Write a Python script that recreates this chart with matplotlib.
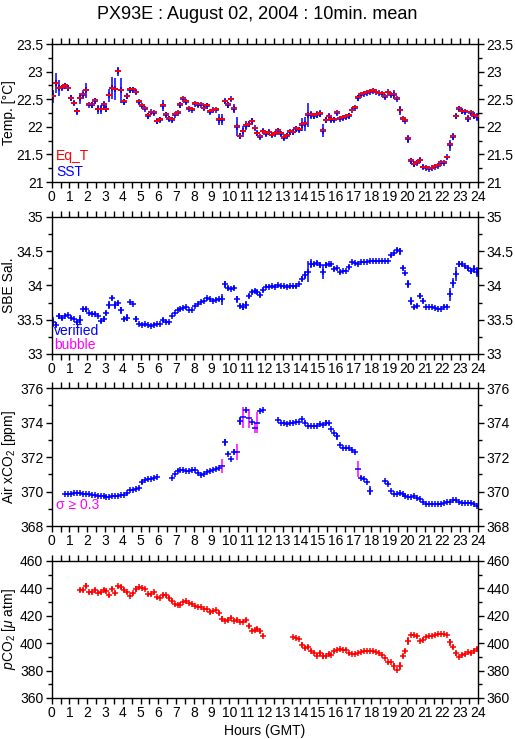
import numpy as np
import matplotlib
matplotlib.use("Agg")
import matplotlib.pyplot as plt
from matplotlib.ticker import MultipleLocator

plt.rcParams['font.family'] = ['Liberation Sans', 'DejaVu Sans']
plt.rcParams['mathtext.fontset'] = 'custom'
plt.rcParams['mathtext.rm'] = 'Liberation Sans'
plt.rcParams['mathtext.it'] = 'Liberation Sans:italic'

nan = np.nan

# 10 minute means, one row per hour (6 values each)
sst = [
    22.55, 22.80, 22.70, 22.71, 22.74, 22.70,
    22.52, 22.43, 22.28, 22.52, 22.58, 22.66,
    22.40, 22.40, 22.47, 22.32, 22.32, 22.40,
    22.32, 22.57, 22.70, 22.68, 23.01, 22.66,
    22.45, 22.55, 22.67, 22.67, 22.63, 22.45,
    22.38, 22.33, 22.20, 22.26, 22.25, 22.10,
    22.13, 22.38, 22.22, 22.15, 22.13, 22.22,
    22.25, 22.40, 22.50, 22.45, 22.33, 22.31,
    22.42, 22.39, 22.40, 22.34, 22.38, 22.27,
    22.30, 22.31, 22.13, 22.13, 22.46, 22.40,
    22.50, 22.33, 22.00, 21.83, 21.92, 22.02,
    22.05, 22.10, 21.97, 21.88, 21.82, 21.92,
    21.87, 21.90, 21.85, 21.87, 21.93, 21.87,
    21.80, 21.84, 21.90, 21.90, 21.96, 21.95,
    22.04, 22.05, 22.22, 22.22, 22.19, 22.22,
    22.24, 21.93, 22.12, 22.19, 22.13, 22.13,
    22.25, 22.15, 22.16, 22.18, 22.20, 22.30,
    22.35, 22.52, 22.58, 22.60, 22.62, 22.64,
    22.65, 22.63, 22.61, 22.60, 22.54, 22.63,
    22.58, 22.58, 22.51, 22.30, 22.15, 22.11,
    21.78, 21.38, 21.32, 21.35, 21.39, 21.27,
    21.26, 21.24, 21.25, 21.28, 21.29, 21.35,
    21.35, 21.45, 21.67, 21.82, 22.19, 22.33,
    22.28, 22.27, 22.15, 22.25, 22.20, 22.18,
]
sst_err = [
    0.11, 0.18, 0.15, 0.04, 0.05, 0.05,
    0.06, 0.03, 0.07, 0.10, 0.08, 0.14,
    0.03, 0.05, 0.05, 0.08, 0.08, 0.06,
    0.05, 0.12, 0.20, 0.20, 0.08, 0.22,
    0.05, 0.05, 0.05, 0.06, 0.03, 0.03,
    0.04, 0.03, 0.05, 0.03, 0.03, 0.04,
    0.04, 0.10, 0.05, 0.05, 0.05, 0.03,
    0.02, 0.05, 0.02, 0.04, 0.02, 0.02,
    0.02, 0.03, 0.02, 0.03, 0.05, 0.04,
    0.03, 0.03, 0.10, 0.10, 0.05, 0.05,
    0.03, 0.08, 0.17, 0.05, 0.10, 0.08,
    0.05, 0.06, 0.03, 0.04, 0.04, 0.04,
    0.04, 0.04, 0.04, 0.04, 0.04, 0.04,
    0.04, 0.04, 0.04, 0.04, 0.05, 0.04,
    0.12, 0.12, 0.22, 0.07, 0.05, 0.06,
    0.07, 0.12, 0.05, 0.05, 0.05, 0.05,
    0.03, 0.03, 0.03, 0.03, 0.05, 0.02,
    0.02, 0.05, 0.03, 0.02, 0.02, 0.02,
    0.01, 0.02, 0.02, 0.02, 0.03, 0.02,
    0.04, 0.08, 0.03, 0.08, 0.02, 0.03,
    0.08, 0.05, 0.04, 0.04, 0.05, 0.03,
    0.03, 0.03, 0.02, 0.02, 0.02, 0.03,
    0.03, 0.03, 0.10, 0.06, 0.04, 0.04,
    0.04, 0.03, 0.07, 0.04, 0.06, 0.07,
]
eq_t = [
    22.56, 22.79, 22.71, 22.73, 22.75, 22.71,
    22.53, 22.44, 22.29, 22.53, 22.59, 22.67,
    22.41, 22.42, 22.48, 22.33, 22.33, 22.41,
    22.33, 22.58, 22.71, 22.69, 23.02, 22.67,
    22.46, 22.56, 22.68, 22.68, 22.64, 22.47,
    22.39, 22.34, 22.22, 22.27, 22.26, 22.11,
    22.14, 22.39, 22.23, 22.16, 22.14, 22.23,
    22.26, 22.41, 22.52, 22.46, 22.34, 22.32,
    22.43, 22.41, 22.41, 22.35, 22.39, 22.29,
    22.31, 22.32, 22.14, 22.14, 22.47, 22.41,
    22.51, 22.34, 22.01, 21.84, 21.93, 22.03,
    22.06, 22.11, 21.98, 21.89, 21.84, 21.93,
    21.88, 21.91, 21.86, 21.89, 21.94, 21.88,
    21.81, 21.85, 21.92, 21.91, 21.97, 21.96,
    22.05, 22.07, 22.23, 22.23, 22.21, 22.23,
    22.25, 21.94, 22.13, 22.20, 22.14, 22.14,
    22.26, 22.16, 22.17, 22.19, 22.22, 22.31,
    22.36, 22.54, 22.59, 22.61, 22.63, 22.65,
    22.66, 22.64, 22.62, 22.61, 22.55, 22.64,
    22.59, 22.59, 22.52, 22.31, 22.16, 22.12,
    21.79, 21.40, 21.33, 21.36, 21.40, 21.28,
    21.27, 21.25, 21.26, 21.29, 21.30, 21.36,
    21.36, 21.46, 21.68, 21.83, 22.20, 22.34,
    22.29, 22.28, 22.16, 22.26, 22.22, 22.19,
]

sal = [
    33.47, 33.43, 33.55, 33.52, 33.56, 33.57,
    33.53, 33.51, 33.46, 33.50, 33.65, 33.65,
    33.60, 33.59, 33.59, 33.56, 33.48, 33.51,
    33.60, 33.71, 33.82, 33.71, 33.74, 33.64,
    33.51, 33.53, 33.76, 33.73, 33.51, 33.44,
    33.43, 33.44, 33.43, 33.41, 33.43, 33.44,
    33.44, 33.50, 33.47, 33.46, 33.55, 33.60,
    33.64, 33.66, 33.67, 33.68, 33.64, 33.64,
    33.70, 33.73, 33.76, 33.78, 33.81, 33.80,
    33.77, 33.79, 33.80, 33.80, 34.02, 33.96,
    33.95, 33.96, 33.80, 33.70, 33.69, 33.72,
    33.85, 33.91, 33.92, 33.90, 33.86, 33.94,
    33.98, 33.98, 33.99, 33.98, 34.00, 33.99,
    33.99, 33.98, 33.99, 33.99, 33.99, 34.02,
    34.10, 34.15, 34.20, 34.32, 34.31, 34.33,
    34.30, 34.20, 34.30, 34.31, 34.31, 34.24,
    34.25, 34.19, 34.21, 34.21, 34.27, 34.34,
    34.33, 34.31, 34.34, 34.34, 34.34, 34.35,
    34.35, 34.35, 34.35, 34.35, 34.36, 34.36,
    34.44, 34.47, 34.52, 34.50, 34.26, 34.18,
    34.02, 33.77, 33.68, 33.70, 33.85, 33.78,
    33.69, 33.69, 33.68, 33.67, 33.66, 33.66,
    33.69, 33.69, 33.87, 34.04, 34.17, 34.31,
    34.31, 34.28, 34.25, 34.21, 34.24, 34.20,
]
sal_err = [
    0.07, 0.04, 0.04, 0.02, 0.02, 0.02,
    0.02, 0.02, 0.04, 0.07, 0.04, 0.03,
    0.02, 0.02, 0.02, 0.02, 0.03, 0.04,
    0.03, 0.06, 0.03, 0.06, 0.04, 0.05,
    0.03, 0.05, 0.02, 0.02, 0.05, 0.01,
    0.01, 0.01, 0.01, 0.02, 0.02, 0.01,
    0.01, 0.03, 0.02, 0.02, 0.01, 0.02,
    0.01, 0.01, 0.01, 0.01, 0.01, 0.01,
    0.01, 0.01, 0.01, 0.01, 0.02, 0.01,
    0.01, 0.02, 0.02, 0.08, 0.05, 0.03,
    0.02, 0.03, 0.05, 0.03, 0.05, 0.06,
    0.03, 0.03, 0.03, 0.03, 0.03, 0.03,
    0.02, 0.02, 0.02, 0.02, 0.02, 0.02,
    0.02, 0.02, 0.02, 0.02, 0.02, 0.02,
    0.04, 0.06, 0.15, 0.06, 0.03, 0.03,
    0.04, 0.10, 0.04, 0.02, 0.02, 0.03,
    0.02, 0.02, 0.02, 0.02, 0.03, 0.01,
    0.01, 0.01, 0.01, 0.01, 0.01, 0.01,
    0.01, 0.01, 0.01, 0.01, 0.01, 0.01,
    0.02, 0.02, 0.03, 0.05, 0.03, 0.02,
    0.06, 0.06, 0.02, 0.03, 0.04, 0.03,
    0.01, 0.01, 0.01, 0.01, 0.01, 0.01,
    0.02, 0.02, 0.10, 0.07, 0.10, 0.04,
    0.03, 0.02, 0.04, 0.04, 0.06, 0.07,
]

xco2 = [
    nan, nan, nan, nan, 369.83, 369.85,
    369.87, 369.90, 369.90, 369.90, 369.88, 369.88,
    369.85, 369.80, 369.77, 369.73, 369.72, 369.72,
    369.71, 369.71, 369.72, 369.74, 369.75, 369.77,
    369.78, 369.90, 370.10, 370.10, 370.12, 370.20,
    370.55, 370.65, 370.72, 370.75, 370.80, 370.85,
    nan, nan, nan, nan, 370.80, 371.00,
    371.20, 371.25, 371.22, 371.20, 371.20, 371.22,
    371.25, 371.05, 370.97, 371.00, 371.15, 371.20,
    371.25, 371.30, 371.35, 371.50, 372.85, 372.20,
    371.90, 372.30, 372.30, 374.10, 374.30, 374.70,
    374.25, 374.05, 373.70, 374.00, 374.65, 374.70,
    nan, nan, nan, nan, 374.12, 374.00,
    373.95, 373.90, 373.95, 374.00, 374.02, 374.05,
    374.18, 374.00, 373.80, 373.80, 373.82, 373.82,
    373.92, 373.88, 374.00, 373.95, 373.65, 373.40,
    373.20, 372.70, 372.55, 372.50, 372.50, 372.40,
    372.30, 371.30, 370.80, 370.70, 370.55, 370.05,
    nan, nan, nan, nan, 370.62, 370.45,
    370.05, 369.85, 369.85, 369.90, 369.88, 369.75,
    369.70, 369.70, 369.72, 369.65, 369.55, 369.40,
    369.30, 369.28, 369.25, 369.28, 369.25, 369.30,
    369.35, 369.38, 369.42, 369.48, 369.48, 369.40,
    369.35, 369.32, 369.36, 369.35, 369.30, 369.18,
]
xco2_err = [
    nan, nan, nan, nan, 0.03, 0.03,
    0.03, 0.03, 0.03, 0.03, 0.03, 0.03,
    0.03, 0.03, 0.03, 0.03, 0.03, 0.03,
    0.03, 0.03, 0.03, 0.03, 0.03, 0.03,
    0.03, 0.08, 0.05, 0.03, 0.03, 0.06,
    0.10, 0.05, 0.04, 0.04, 0.03, 0.05,
    nan, nan, nan, nan, 0.03, 0.06,
    0.05, 0.03, 0.03, 0.03, 0.03, 0.04,
    0.03, 0.06, 0.03, 0.03, 0.05, 0.03,
    0.03, 0.03, 0.03, 0.40, 0.20, 0.10,
    0.05, 0.15, 0.45, 0.25, 0.60, 0.10,
    0.55, 0.05, 0.30, 0.60, 0.05, 0.04,
    nan, nan, nan, nan, 0.03, 0.03,
    0.03, 0.03, 0.03, 0.03, 0.03, 0.03,
    0.05, 0.10, 0.03, 0.03, 0.03, 0.03,
    0.05, 0.03, 0.15, 0.10, 0.05, 0.08,
    0.20, 0.05, 0.04, 0.05, 0.03, 0.04,
    0.03, 0.45, 0.10, 0.06, 0.05, 0.25,
    nan, nan, nan, nan, 0.03, 0.10,
    0.04, 0.03, 0.03, 0.03, 0.03, 0.03,
    0.03, 0.03, 0.03, 0.03, 0.03, 0.03,
    0.03, 0.03, 0.03, 0.03, 0.03, 0.03,
    0.03, 0.03, 0.03, 0.03, 0.03, 0.03,
    0.03, 0.03, 0.03, 0.03, 0.03, 0.04,
]

pco2 = [
    nan, nan, nan, nan, nan, nan,
    nan, nan, nan, 438.5, 438.5, 442.0,
    437.0, 437.0, 438.5, 436.8, 437.0, 438.5,
    438.0, 435.0, 439.5, 436.5, 441.5, 441.0,
    439.0, 437.2, 434.5, 436.5, 439.5, 440.8,
    440.2, 439.5, 435.8, 435.8, 437.2, 433.5,
    433.0, 435.0, 435.0, 433.0, 430.5, 428.5,
    428.0, 428.0, 430.0, 430.5, 429.2, 428.5,
    427.0, 426.5, 426.5, 425.3, 425.0, 422.8,
    423.5, 424.2, 422.0, 418.0, 416.5, 417.0,
    418.5, 416.5, 417.0, 415.5, 415.5, 417.0,
    412.5, 409.0, 409.5, 410.5, 409.0, 405.5,
    nan, nan, nan, nan, nan, nan,
    nan, nan, nan, 404.5, 404.0, 403.0,
    399.0, 396.5, 397.5, 394.5, 393.0, 391.0,
    392.5, 390.5, 390.5, 392.0, 391.5, 394.0,
    395.0, 396.0, 395.0, 395.2, 392.5, 391.8,
    391.8, 393.0, 393.8, 394.2, 394.2, 394.0,
    394.0, 393.8, 392.5, 391.2, 389.2, 386.0,
    386.5, 383.0, 380.5, 383.5, 390.5, 394.0,
    401.5, 406.0, 406.0, 405.0, 401.5, 402.5,
    404.2, 405.0, 405.5, 406.0, 406.5, 406.5,
    406.5, 405.8, 400.5, 397.5, 392.5, 390.0,
    391.5, 392.0, 393.5, 392.5, 394.0, 395.5,
]
pco2_err = [
    nan, nan, nan, nan, nan, nan,
    nan, nan, nan, 1.5, 1.5, 2.0,
    1.0, 1.0, 1.5, 1.0, 1.0, 1.5,
    1.5, 1.0, 1.5, 1.5, 1.0, 1.5,
    1.5, 1.0, 1.0, 1.0, 2.5, 1.0,
    1.0, 1.0, 1.0, 1.0, 1.0, 1.0,
    1.0, 1.5, 1.0, 1.5, 1.5, 1.0,
    1.0, 1.0, 1.0, 1.0, 0.5, 0.5,
    0.5, 0.5, 0.5, 0.5, 0.5, 1.5,
    1.0, 1.0, 1.5, 1.5, 1.0, 1.5,
    1.0, 1.0, 1.5, 0.5, 0.5, 1.5,
    1.5, 1.0, 1.0, 1.5, 1.5, 1.0,
    nan, nan, nan, nan, nan, nan,
    nan, nan, nan, 0.5, 0.5, 0.5,
    1.5, 1.5, 1.5, 1.0, 1.0, 1.0,
    2.0, 2.0, 1.0, 1.5, 1.0, 1.0,
    1.0, 0.5, 1.0, 1.0, 1.0, 0.5,
    0.5, 0.5, 0.5, 0.5, 0.5, 0.5,
    0.5, 0.5, 0.5, 0.5, 1.0, 1.0,
    0.5, 2.5, 1.0, 3.0, 1.5, 1.5,
    3.0, 0.5, 0.5, 1.0, 1.0, 1.0,
    0.5, 0.5, 0.5, 0.5, 0.5, 0.5,
    0.5, 0.5, 2.5, 1.5, 1.5, 1.0,
    1.0, 1.0, 1.0, 1.0, 1.5, 1.5,
]

hours = np.arange(len(sst)) / 6.0 + 1.0 / 12.0

BLUE = '#0000ff'
RED = '#ff0000'
MAG = '#ff00ff'
FS = 10
MS = 4
LW = 1.1

fig = plt.figure(figsize=(5.15, 7.39), dpi=100)
left, width = 0.1004, 0.8278
boxes = [(0.7537, 0.1867), (0.5210, 0.1854), (0.2882, 0.1867), (0.0555, 0.1854)]
axes = [fig.add_axes([left, b, width, h]) for b, h in boxes]


def style(ax, ylo, yhi, major, minor, label):
    ax.set_xlim(0, 24)
    ax.set_ylim(ylo, yhi)
    ax.xaxis.set_major_locator(MultipleLocator(1))
    ax.xaxis.set_minor_locator(MultipleLocator(0.5))
    ax.yaxis.set_major_locator(MultipleLocator(major))
    ax.yaxis.set_minor_locator(MultipleLocator(minor))
    ax.tick_params(which='both', direction='out', top=True, right=True,
                   labelright=True, labelsize=FS, width=1, pad=2)
    ax.tick_params(axis='x', which='both', length=4)
    ax.tick_params(axis='y', which='major', length=4)
    ax.tick_params(axis='y', which='minor', length=3)
    ax.yaxis.set_major_formatter(plt.FuncFormatter(lambda v, p: f'{v:g}'))
    ax.xaxis.set_major_formatter(plt.FuncFormatter(lambda v, p: f'{v:g}'))
    ax.set_ylabel(label, fontsize=FS, va='center')
    ax.yaxis.set_label_coords(-0.1, 0.5)
    for s in ax.spines.values():
        s.set_linewidth(1)


def crosses(ax, y, err, color, zorder=2):
    ax.errorbar(hours, y, yerr=err, fmt='+', color=color, ms=MS, mew=LW,
                ecolor=color, elinewidth=LW, capsize=0, zorder=zorder)


# panel 1: temperatures
ax = axes[0]
crosses(ax, sst, sst_err, BLUE)
ax.plot(hours, eq_t, ls='none', marker='_', color=RED, ms=MS, mew=LW + 0.3, zorder=3)
style(ax, 21, 23.5, 0.5, 0.25, 'Temp. [°C]')
ax.text(0.01, 0.19, 'Eq_T', color=RED, fontsize=FS, transform=ax.transAxes, va='center')
ax.text(0.01, 0.07, 'SST', color=BLUE, fontsize=FS, transform=ax.transAxes, va='center')

# panel 2: salinity
ax = axes[1]
crosses(ax, sal, sal_err, BLUE)
style(ax, 33, 35, 0.5, 0.25, 'SBE Sal.')
ax.text(0.005, 0.17, 'verified', color=BLUE, fontsize=FS, transform=ax.transAxes, va='center')
ax.text(0.005, 0.066, 'bubble', color=MAG, fontsize=FS, transform=ax.transAxes, va='center')

# panel 3: air xCO2, sigma >= 0.3 drawn in magenta
ax = axes[2]
xe = np.array(xco2_err)
xv = np.array(xco2)
hi = xe >= 0.3
crosses(ax, np.where(hi, nan, xv), xe, BLUE)
ax.errorbar(hours[hi], xv[hi], yerr=xe[hi], fmt='none', ecolor=MAG,
            elinewidth=LW, capsize=0, zorder=2)
ax.plot(hours[hi], xv[hi], ls='none', marker='_', color=BLUE, ms=MS, mew=LW, zorder=3)
style(ax, 368, 376, 2, 1, 'Air xCO$_2$ [ppm]')
ax.text(0.01, 0.15, 'σ ≥ 0.3', color=MAG, fontsize=FS, transform=ax.transAxes, va='center')

# panel 4: pCO2
ax = axes[3]
crosses(ax, pco2, pco2_err, RED)
style(ax, 360, 460, 20, 10, r'$\it{p}$CO$_2$ [$\mu$ atm]')
ax.set_xlabel('Hours (GMT)', fontsize=FS, labelpad=3)

fig.suptitle('PX93E : August 02, 2004 : 10min. mean', fontsize=13, y=0.992)

fig.savefig('out.png', dpi=100)
